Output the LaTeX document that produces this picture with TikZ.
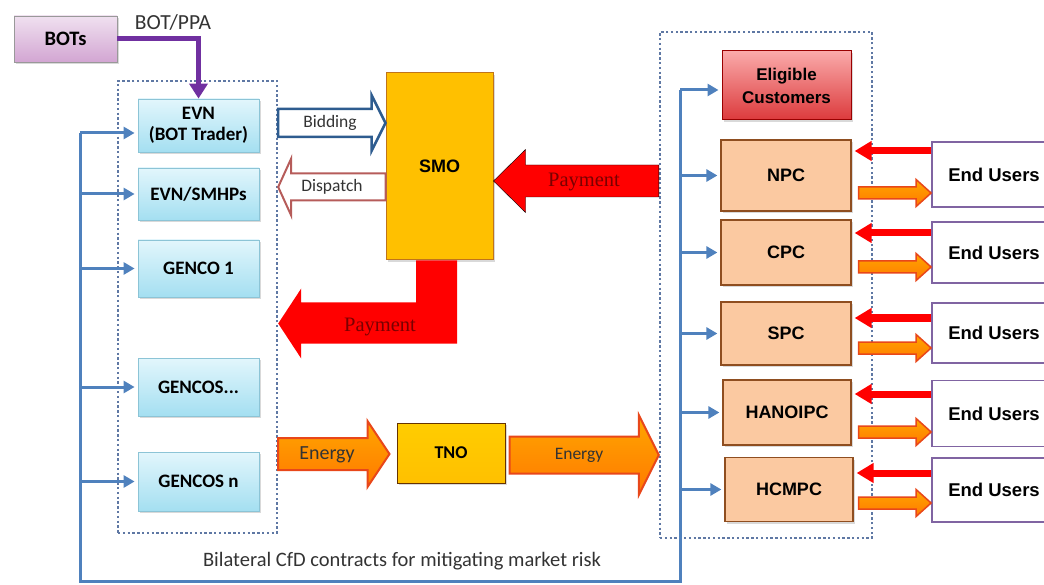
\documentclass[tikz,border=0pt]{standalone}
\usepackage{fontspec}
\setmainfont{Carlito}
\newfontfamily\arialfont{Liberation Sans}
\newfontfamily\timesfont{Liberation Serif}
\usepackage{xcolor}
\usepackage{tikz}
\usetikzlibrary{arrows.meta, positioning, calc, shadows}

\definecolor{busblue}{HTML}{4F81BD}
\definecolor{dotblue}{HTML}{5F78A4}
\definecolor{botpurple}{HTML}{7030A0}
\definecolor{cyantop}{HTML}{E2F6FC}
\definecolor{cyanbot}{HTML}{A4DFF1}
\definecolor{cyanline}{HTML}{8CC4D6}
\definecolor{peach}{HTML}{FBC9A1}
\definecolor{peachline}{HTML}{8F4E20}
\definecolor{userline}{HTML}{8064A2}
\definecolor{smofill}{HTML}{FFC000}
\definecolor{smoline}{HTML}{C0741A}
\definecolor{eligtop}{HTML}{FAAAAA}
\definecolor{eligbot}{HTML}{DC3A3C}
\definecolor{paytext}{HTML}{7A0000}
\definecolor{enline}{HTML}{E8471A}
\definecolor{bidline}{HTML}{2E5C8F}
\definecolor{displine}{HTML}{B65C5A}

\tikzset{
  shade/.style={drop shadow={shadow xshift=2pt, shadow yshift=-2pt, opacity=0.3}},
  genbox/.style={draw=cyanline, line width=0.8pt, top color=cyantop, bottom color=cyanbot,
    shade, minimum width=121pt, align=center, font=\bfseries\fontsize{19}{21}\selectfont},
  discobox/.style={draw=peachline, line width=1.2pt, fill=peach, shade, minimum width=130pt,
    align=center, font=\arialfont\bfseries\fontsize{18}{21}\selectfont},
  userbox/.style={draw=userline, line width=1.8pt, fill=white, minimum width=124pt,
    font=\arialfont\bfseries\fontsize{18.5}{21}\selectfont},
  grp/.style={draw=dotblue, line width=2.4pt, dash pattern=on 2.4pt off 2.4pt},
  bus/.style={draw=busblue, line width=3pt},
  busarrow/.style={bus, -{Triangle[length=11pt,width=12pt]}, shorten >=3pt},
  botline/.style={draw=botpurple, line width=5pt, -{Triangle[length=15pt,width=18pt]}},
  redarrow/.style={draw=red, line width=7pt, -{Triangle[length=17pt,width=19pt]}, shorten >=3pt},
  payarrow/.style={fill=red},
  enarrow/.style={draw=enline, line width=2pt, top color=orange!70!yellow, bottom color=orange!95!red},
  lbl/.style={font=\fontsize{#1}{22}\selectfont, text=black!80},
  paylbl/.style={font=\timesfont\fontsize{20.5}{22}\selectfont, text=paytext}
}

% block arrow from tail #2 to tip #3: shaft half width, head half width, head length
\newcommand{\blockarrow}[6][]{%
  \draw[#1] let \p1=(#2), \p2=(#3), \n1={sign(\x2-\x1)} in
    (\x1,{\y1+#4}) -- ({\x2-(\n1)*#6},{\y1+#4}) -- ({\x2-(\n1)*#6},{\y1+#5})
    -- (\x2,\y1) -- ({\x2-(\n1)*#6},{\y1-#5}) -- ({\x2-(\n1)*#6},{\y1-#4})
    -- (\x1,{\y1-#4}) -- cycle;}

\begin{document}
\begin{tikzpicture}[x=1pt,y=-1pt]
\useasboundingbox (0,0) rectangle (1044,585);

% groups
\node[grp, minimum width=159pt, minimum height=452pt] (gengrp) at (197.5,307) {};
\node[grp, minimum width=212pt, minimum height=506pt] (dsogrp) at (766,285) {};

% BOTs and generators
\node[draw=black!40, line width=0.8pt, top color=violet!12, bottom color=violet!35, shade,
  minimum width=103pt, minimum height=46pt, font=\bfseries\fontsize{20.5}{22}\selectfont] (bots) at (65.5,39) {BOTs};
\node[genbox, minimum height=53pt] (evn) at (198.5,125.5) {EVN\\(BOT Trader)};
\node[genbox, minimum height=52pt] (smhp) at (198.5,194) {EVN/SMHPs};
\node[genbox, minimum height=57pt] (genco1) at (198.5,268.5) {GENCO 1};
\node[genbox, minimum height=58pt] (gencos) at (198.5,387) {GENCOS...};
\node[genbox, minimum height=59pt] (gencon) at (198.5,481.5) {GENCOS n};

% market operators
\node[draw=smoline, line width=1pt, fill=smofill, shade, minimum width=107pt, minimum height=187pt,
  font=\arialfont\bfseries\fontsize{18}{21}\selectfont] (smo) at (439.5,166.5) {SMO};
\node[draw=black!60!orange, line width=1pt, top color=smofill!80!yellow, bottom color=smofill, shade,
  minimum width=108pt, minimum height=60pt, font=\bfseries\fontsize{18}{21}\selectfont] (tno) at (451,453) {TNO};

% distribution side
\node[draw=red!60!black, line width=1pt, top color=eligtop, bottom color=eligbot, shade,
  minimum width=129pt, minimum height=69pt, align=center,
  font=\arialfont\bfseries\fontsize{17}{23}\selectfont] (elig) at (786.5,85.5) {Eligible\\Customers};
\node[discobox, minimum height=71pt] (npc) at (786,175.5) {NPC};
\node[discobox, minimum height=65pt] (cpc) at (786,252.5) {CPC};
\node[discobox, minimum height=63pt] (spc) at (786,333.5) {SPC};
\node[discobox, minimum width=128pt, minimum height=65pt] (hnpc) at (787,412.5) {HANOIPC};
\node[discobox, minimum width=128pt, minimum height=64pt] (hcmpc) at (789,489.5) {HCMPC};

\node[userbox, minimum height=65pt] (eu1) at (994,174.5) {End Users};
\node[userbox, minimum height=61pt] (eu2) at (994,252.5) {End Users};
\node[userbox, minimum height=60pt] (eu3) at (994,333) {End Users};
\node[userbox, minimum height=66pt] (eu4) at (994,413.5) {End Users};
\node[userbox, minimum height=64pt] (eu5) at (994,490) {End Users};

% BOT contract
\draw[botline] (bots.east) -| (evn.north);
\node[lbl=21.5] (ppa) at (173,22) {BOT/PPA};

% bilateral contract bus
\coordinate (busL) at (80,581);
\coordinate (busR) at (680,581);
\draw[bus] (busL |- 0,133) -- (busL) -- (busR) -- (busR |- 0,90);
\draw[busarrow] (busL |- 0,133) -- (evn.west |- 0,133);
\draw[busarrow] (busL |- smhp) -- (smhp.west);
\draw[busarrow] (busL |- genco1) -- (genco1.west);
\draw[busarrow] (busL |- gencos) -- (gencos.west);
\draw[busarrow] (busL |- gencon) -- (gencon.west);
\draw[busarrow] (busR |- 0,90) -- (elig.west |- 0,90);
\draw[busarrow] (busR |- npc) -- (npc.west);
\draw[busarrow] (busR |- cpc) -- (cpc.west);
\draw[busarrow] (busR |- spc) -- (spc.west);
\draw[busarrow] (busR |- hnpc) -- (hnpc.west);
\draw[busarrow] (busR |- hcmpc) -- (hcmpc.west);
\node[lbl=20.5] (cfd) at (402,561) {Bilateral CfD contracts for mitigating market risk};

% bidding and dispatch
\blockarrow[draw=bidline, line width=2.5pt, fill=white]{gengrp.east |- 0,123}{smo.west |- 0,123}{14pt}{28pt}{14pt}
\blockarrow[draw=displine, line width=2pt, fill=white]{smo.west |- 0,187}{gengrp.east |- 0,187}{13.5pt}{28.5pt}{13pt}
\node[lbl=17.5] (bid) at (330,123) {Bidding};
\node[lbl=17.5] (disp) at (332,187) {Dispatch};

% payments
\blockarrow[payarrow]{dsogrp.west |- 0,181}{smo.east |- 0,181}{16pt}{31.5pt}{32pt}
\fill[payarrow] let \p1=(smo.south), \p2=(gengrp.east) in
  ({\x1-23.5pt},\y1) -- ({\x1-23.5pt},{\y1-42pt}) -- ({\x2+23pt},{\y1-42pt}) -- ({\x2+23pt},{\y1-28pt})
  -- (\x2,{\y1-63pt}) -- ({\x2+23pt},{\y1-98pt}) -- ({\x2+23pt},{\y1-83pt})
  -- ({\x1+17.5pt},{\y1-83pt}) -- ({\x1+17.5pt},\y1) -- cycle;
\node[paylbl] (pay1) at (584,182) {Payment};
\node[paylbl] (pay2) at (380,327) {Payment};

% energy
\blockarrow[enarrow]{gengrp.east |- 0,454}{$(tno.west |- 0,454)+(-7,0)$}{16pt}{33pt}{22pt}
\blockarrow[enarrow]{$(tno.east |- 0,455)+(4,0)$}{dsogrp.west |- 0,455}{18.5pt}{40pt}{20pt}
\node[lbl=20] (en1) at (327,455) {Energy};
\node[lbl=17.5] (en2) at (579,455) {Energy};

% end users
\draw[redarrow] (eu1.west |- 0,151) -- (npc.east |- 0,151);
\draw[redarrow] (eu2.west |- 0,233) -- (cpc.east |- 0,233);
\draw[redarrow] (eu3.west |- 0,318) -- (spc.east |- 0,318);
\draw[redarrow] (eu4.west |- 0,394) -- (hnpc.east |- 0,394);
\draw[redarrow] (eu5.west |- 0,473) -- (hcmpc.east |- 0,473);
\blockarrow[enarrow, line width=1.5pt]{$(npc.east |- 0,193)+(7,0)$}{eu1.west |- 0,193}{6pt}{13.5pt}{15pt}
\blockarrow[enarrow, line width=1.5pt]{$(cpc.east |- 0,267)+(7,0)$}{eu2.west |- 0,267}{6pt}{13.5pt}{15pt}
\blockarrow[enarrow, line width=1.5pt]{$(spc.east |- 0,348)+(7,0)$}{eu3.west |- 0,348}{6pt}{13.5pt}{15pt}
\blockarrow[enarrow, line width=1.5pt]{$(hnpc.east |- 0,432)+(7,0)$}{eu4.west |- 0,432}{6pt}{13.5pt}{15pt}
\blockarrow[enarrow, line width=1.5pt]{$(hcmpc.east |- 0,503)+(5,0)$}{eu5.west |- 0,503}{6pt}{13.5pt}{15pt}
\end{tikzpicture}
\end{document}
